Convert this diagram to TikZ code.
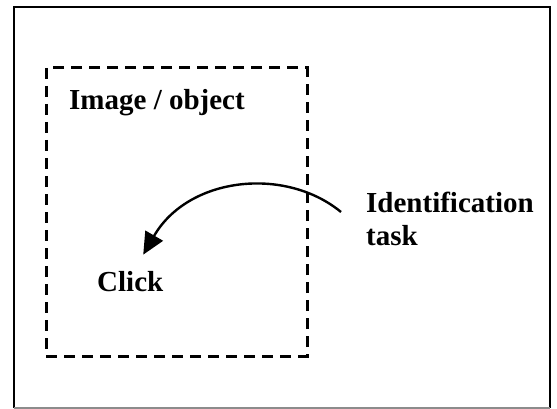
\documentclass[tikz,border=0pt]{standalone}
\usepackage{fontspec}
\setmainfont{Liberation Serif}
\usetikzlibrary{arrows.meta,calc}
\tikzset{
  lbl/.style={anchor=base west, inner sep=0pt, font=\fontsize{29}{33}\selectfont\bfseries},
  frameline/.style={line width=2.4pt},
  dashbox/.style={line width=3pt, dash pattern=on 11pt off 7pt},
  arrowline/.style={line width=2.4pt, -{Triangle[length=22pt,width=20pt]}}
}
\begin{document}
\begin{tikzpicture}[x=1pt,y=-1pt]
  \useasboundingbox (0,0) rectangle (557,409);
  % outer frame
  \draw[frameline] (14,408) -- (14,7) -- (550,7) -- (550,408);
  \draw[line width=1.2pt, black!45] (14,408) -- (550,408);
  % dashed region
  \draw[dashbox] (46,68) rectangle (307,356);
  % labels
  \node[lbl] (obj) at (69,110) {Image / object};
  \node[lbl] (click) at (97,291) {Click};
  \node[lbl] (id) at (366,212) {Identification};
  \node[lbl] (task) at (366,245) {task};
  % connector from the task label to the click
  \coordinate (s) at ($(id.base west)+(-25,0)$);
  \coordinate (t) at ($(click.north)+(13,-16)$);
  \draw[arrowline] (s) .. controls +(-56,-46) and +(45,-78) .. (t);
\end{tikzpicture}
\end{document}
